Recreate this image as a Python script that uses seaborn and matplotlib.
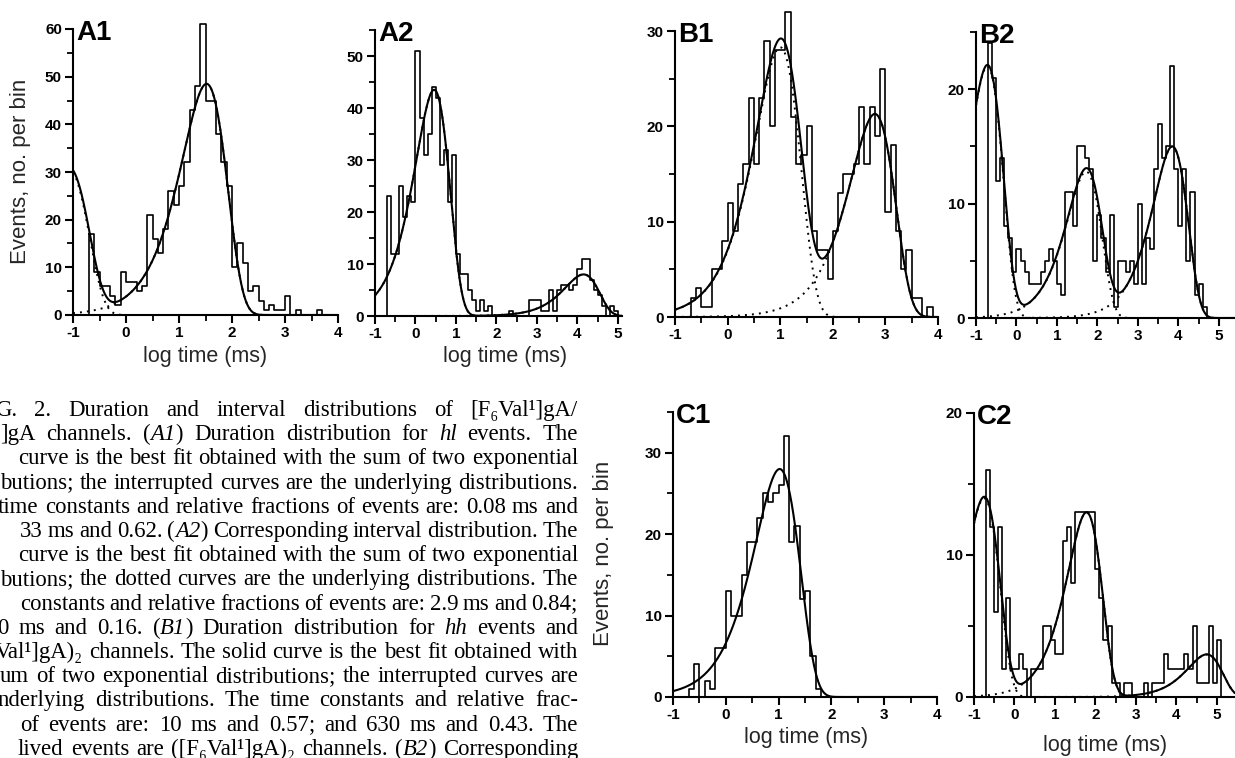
import numpy as np
import pandas as pd
import seaborn as sns
import matplotlib.pyplot as plt
from matplotlib.ticker import MultipleLocator

sns.set_theme(style="ticks")
plt.rcParams['font.family'] = ['Liberation Sans', 'DejaVu Sans']
plt.rcParams['axes.unicode_minus'] = False

W, H = 1235, 758

# event counts per 0.1 log-unit bin, first bin starts at log t = -0.7
bin_start = -0.7
bin_width = 0.1

a1_counts = [17, 9, 6, 6, 4, 2, 9, 7, 7, 5, 6, 21, 16, 13, 18, 26, 23, 27, 32, 43,
             48, 61, 45, 45, 38, 32, 27, 10, 15, 11, 5, 6, 3, 1, 2, 1, 1, 4, 0, 1,
             0, 0, 0, 1]
a2_counts = [23, 12, 12, 25, 19, 23, 22, 51, 38, 31, 35, 44, 42, 29, 32, 22, 31, 12, 8, 8,
             5, 3, 1, 3, 1, 2, 0, 0, 0, 0, 1, 0, 0, 0, 0, 3, 3, 3, 1, 1,
             5, 1, 5, 6, 6, 5, 6, 9, 11, 11, 7, 5, 4, 2, 0, 2, 1]
b1_counts = [2, 3, 1, 1, 5, 5, 8, 12, 9, 14, 16, 23, 16, 23, 29, 20, 28, 28, 32, 21,
             16, 17, 20, 9, 7, 7, 4, 9, 13, 15, 15, 16, 22, 16, 22, 19, 26, 11, 18, 9,
             5, 7, 2, 2, 0, 1]
b2_counts = [24, 21, 12, 14, 8, 7, 4, 6, 5, 4, 3, 3, 3, 4, 5, 6, 5, 3, 2, 11,
             11, 8, 15, 15, 14, 13, 5, 9, 7, 4, 9, 1, 5, 5, 4, 5, 3, 10, 3, 7,
             6, 13, 17, 14, 15, 22, 13, 8, 13, 5, 11, 2, 3, 1]
c1_counts = [1, 4, 0, 2, 1, 6, 6, 13, 10, 10, 15, 19, 19, 22, 25, 24, 25, 26, 32, 19,
             21, 12, 13, 5, 1]
c2_counts = [16, 12, 6, 12, 2, 7, 2, 2, 3, 2, 0, 2, 2, 2, 5, 5, 4, 3, 3, 11,
             12, 8, 13, 13, 13, 13, 13, 9, 7, 4, 5, 1, 1, 0, 1, 1, 0, 0, 0, 1,
             0, 1, 1, 1, 3, 2, 2, 2, 2, 3, 2, 5, 1, 1, 1, 5, 1, 4]

# fitted exponential components: log10 time constant (ms) and peak height (events/bin)
a1_logtau, a1_peak = [-1.097, 1.52], [30.8, 48.5]
a2_logtau, a2_peak = [0.46, 4.15], [43.5, 8.0]
b1_logtau, b1_peak = [1.0, 2.8], [28.3, 21.3]
b2_logtau, b2_peak = [-0.72, 1.72, 3.85], [22.0, 12.8, 15.0]
c1_logtau, c1_peak = [1.02], [28.0]
c2_logtau, c2_peak = [-0.75, 1.78, 4.75], [14.0, 13.0, 3.0]

fig = plt.figure(figsize=(W / 100, H / 100), dpi=100)


def rect(left, right, bottom, top):
    return [left / W, 1 - bottom / H, (right - left) / W, (bottom - top) / H]


def panel(name, r, counts, logtau, peak, xmax, ymax, xtop, ytop):
    ax = fig.add_axes(r)
    padded = [0] + list(counts) + [0]
    edges = bin_start - bin_width + bin_width * np.arange(len(padded) + 1)
    hist = pd.DataFrame({"x": edges[:-1] + bin_width / 2, "n": padded})
    sns.histplot(data=hist, x="x", weights="n", bins=list(edges), element="step",
                 fill=False, color="black", linewidth=1.2, ax=ax)
    ax.lines[-1].set_clip_on(False)

    xs = np.linspace(-1, xmax, 800)
    comps = []
    for lt, p in zip(logtau, peak):
        r_ = 10 ** (xs - lt)
        comps.append(p * r_ * np.exp(1 - r_))
    if len(comps) > 1:
        for c in comps:
            sns.lineplot(x=xs, y=c, ax=ax, color="black", linewidth=1.4,
                         linestyle=(0, (1, 2.6)), errorbar=None)
    sns.lineplot(x=xs, y=np.sum(comps, axis=0), ax=ax, color="black",
                 linewidth=1.5, errorbar=None)

    ax.set_xlim(-1, xmax)
    ax.set_ylim(0, ymax)
    ax.set_xlabel("")
    ax.set_ylabel("")
    ax.set_xticks(np.arange(-1, xtop + 1))
    ax.set_yticks(np.arange(0, ytop + 1, 10))
    ax.xaxis.set_minor_locator(MultipleLocator(0.5))
    ax.yaxis.set_minor_locator(MultipleLocator(5))
    for s in ["top", "right"]:
        ax.spines[s].set_visible(False)
    for s in ["left", "bottom"]:
        ax.spines[s].set_linewidth(1.5)
        ax.spines[s].set_color("black")
    ax.tick_params(which="major", direction="out", length=6, width=1.5,
                   colors="black", pad=2)
    ax.tick_params(which="minor", direction="out", length=4, width=1.3, colors="black")
    for lab in ax.get_xticklabels() + ax.get_yticklabels():
        lab.set_fontweight("bold")
        lab.set_fontsize(11)
    ax.set_facecolor("white")
    ax.annotate(name, xy=(0, 1), xycoords="axes fraction", xytext=(3, 9),
                textcoords="offset pixels", ha="left", va="top",
                fontsize=20, fontweight="bold", color="black")
    return ax


panel("A1", rect(73, 338, 315, 29), a1_counts, a1_logtau, a1_peak, 4, 60, 4, 60)
panel("A2", rect(375, 622, 316, 30), a2_counts, a2_logtau, a2_peak, 5.1, 55, 5, 50)
panel("B1", rect(675, 938, 317, 31), b1_counts, b1_logtau, b1_peak, 4, 30, 4, 30)
panel("B2", rect(976, 1235, 318, 32), b2_counts, b2_logtau, b2_peak, 5.4, 25, 5, 20)
panel("C1", rect(673, 937, 697, 412), c1_counts, c1_logtau, c1_peak, 4, 35, 4, 30)
panel("C2", rect(974, 1235, 697, 413), c2_counts, c2_logtau, c2_peak, 5.45, 20, 5, 20)

# axis titles
for (x, y) in [(205, 357), (505, 357), (806, 738), (1105, 745)]:
    fig.text(x / W, 1 - y / H, "log time (ms)", ha="center", va="center", fontsize=15.5)
for (x, y) in [(21, 171), (603, 553)]:
    fig.text(x / W, 1 - y / H, "Events, no. per bin", ha="center", va="center",
             rotation=90, fontsize=16)

# caption block (cut at the left edge, justified)
caption_lines = [
    "G. 2.  Duration and interval distributions of [F₆Val¹]gA/",
    "]gA channels. (*A1*) Duration distribution for *hl* events. The",
    "curve is the best fit obtained with the sum of two exponential",
    "butions; the interrupted curves are the underlying distributions.",
    "time constants and relative fractions of events are: 0.08 ms and",
    "33 ms and 0.62. (*A2*) Corresponding interval distribution. The",
    "curve is the best fit obtained with the sum of two exponential",
    "butions; the dotted curves are the underlying distributions. The",
    "constants and relative fractions of events are: 2.9 ms and 0.84;",
    "0 ms and 0.16. (*B1*) Duration distribution for *hh* events and",
    "Val¹]gA)₂ channels. The solid curve is the best fit obtained with",
    "um of two exponential distributions; the interrupted curves are",
    "nderlying distributions. The time constants and relative frac-",
    "of events are: 10 ms and 0.57; and 630 ms and 0.43. The",
    "lived events are ([F₆Val¹]gA)₂ channels. (*B2*) Corresponding",
]
caption_x0 = [-5, 0, 18, 0, -2, 20, 18, 0, 20, -3, -5, 0, -2, 20, 18]
caption_right = 578
serif = ["Liberation Serif", "DejaVu Serif"]
renderer = fig.canvas.get_renderer()


def parts_of(word):
    return [(p, i % 2 == 1) for i, p in enumerate(word.split("*")) if p]


def width_of(s, italic, fs):
    t = fig.text(0, 0, s, fontsize=fs, family=serif,
                 style="italic" if italic else "normal")
    w = t.get_window_extent(renderer).width
    t.remove()
    return w


fs0 = 14
line_words = [[w for w in ln.split(" ") if w] for ln in caption_lines]
fs = 18
for words, x0 in zip(line_words, caption_x0):
    sw = sum(width_of(p, it, fs0) for w in words for p, it in parts_of(w))
    fit = (caption_right - x0) / (sw / fs0 + 0.2 * (len(words) - 1) * 100 / 72)
    fs = min(fs, fit)

for i, (words, x0) in enumerate(zip(line_words, caption_x0)):
    ws = [[(p, it, width_of(p, it, fs)) for p, it in parts_of(w)] for w in words]
    total = sum(pw for w in ws for _, _, pw in w)
    gap = (caption_right - x0 - total) / (len(ws) - 1)
    y = 416 + 24.2 * i
    x = x0
    for w in ws:
        for p, it, pw in w:
            fig.text(x / W, 1 - y / H, p, fontsize=fs, family=serif,
                     style="italic" if it else "normal", ha="left", va="baseline",
                     color="black")
            x += pw
        x += gap

fig.savefig("out.png", dpi=100, facecolor="white")
